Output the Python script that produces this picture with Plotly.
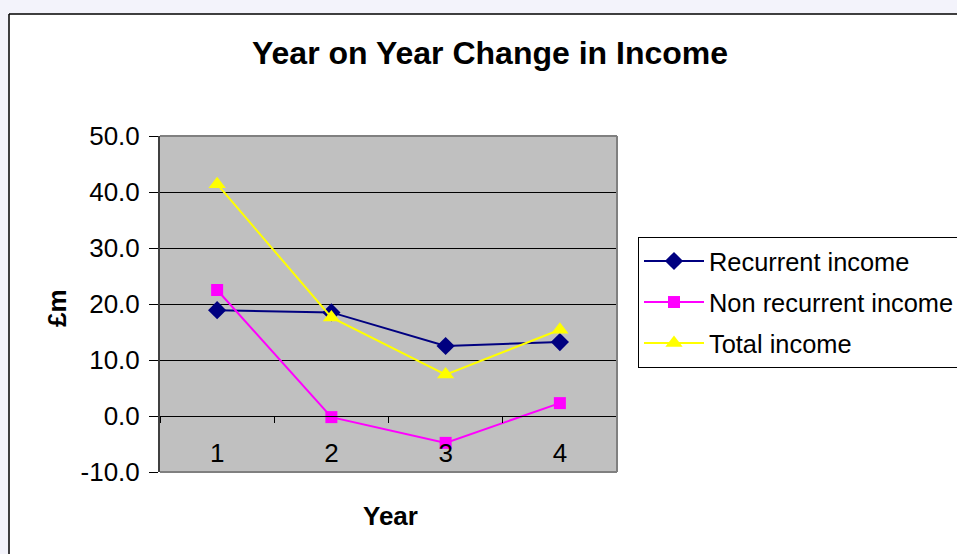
import plotly.graph_objects as go

years = ["1", "2", "3", "4"]
recurrent = [18.9, 18.5, 12.5, 13.2]
non_recurrent = [22.5, -0.2, -4.8, 2.3]
total = [41.4, 17.6, 7.4, 15.4]
y_ticks = [-10, 0, 10, 20, 30, 40, 50]
y_ticktext = [f"{v:.1f}" for v in y_ticks]

FONT = "Arial, Liberation Sans, sans-serif"
W, H = 957, 554
L, R, T, B = 160, 617, 136, 472


def px(xp):
    return (xp - L) / (R - L)


def py(yp):
    return (B - yp) / (B - T)


fig = go.Figure()
fig.add_trace(go.Scatter(x=years, y=recurrent, name="Recurrent income", mode="lines+markers",
                         line=dict(color="#000080", width=2),
                         marker=dict(symbol="diamond", size=14, color="#000080"),
                         legendgroup="a"))
fig.add_trace(go.Scatter(x=years, y=non_recurrent, name="Non recurrent income", mode="lines+markers",
                         line=dict(color="#ff00ff", width=2),
                         marker=dict(symbol="square", size=12, color="#ff00ff"),
                         legendgroup="b"))
fig.add_trace(go.Scatter(x=years, y=total, name="Total income", mode="lines+markers",
                         line=dict(color="#ffff00", width=2),
                         marker=dict(symbol="triangle-up", size=15, color="#ffff00"),
                         legendgroup="c"))

shapes = [
    dict(type="rect", xref="paper", yref="paper", x0=px(-5), x1=px(W + 5), y0=py(14), y1=py(-5),
         fillcolor="#f3f3fb", line=dict(width=0), layer="above"),
    dict(type="rect", xref="paper", yref="paper", x0=px(-5), x1=px(9), y0=py(H + 5), y1=py(14),
         fillcolor="#f3f3fb", line=dict(width=0), layer="above"),
    dict(type="line", xref="paper", yref="paper", x0=px(9), x1=px(W + 5), y0=py(14), y1=py(14),
         line=dict(color="#000000", width=1.5)),
    dict(type="line", xref="paper", yref="paper", x0=px(9), x1=px(9), y0=py(14), y1=py(H + 5),
         line=dict(color="#000000", width=1.5)),
    dict(type="line", xref="paper", yref="paper", x0=0, x1=1, y0=1, y1=1,
         line=dict(color="#808080", width=2)),
    dict(type="line", xref="paper", yref="paper", x0=1, x1=1, y0=0, y1=1,
         line=dict(color="#808080", width=2)),
    dict(type="line", xref="paper", yref="paper", x0=0, x1=1, y0=0, y1=0,
         line=dict(color="#808080", width=2)),
]

fig.update_layout(
    width=W, height=H,
    margin=dict(l=L, r=W - R, t=T, b=H - B, pad=0, autoexpand=False),
    paper_bgcolor="#ffffff",
    plot_bgcolor="#c0c0c0",
    font=dict(family=FONT, color="#000000", size=26),
    title=dict(text="<b>Year on Year Change in Income</b>", x=490 / W, xref="container",
               y=1 - 53 / H, yref="container", xanchor="center", yanchor="middle",
               font=dict(size=32, family=FONT, color="#000000")),
    showlegend=True,
    legend=dict(x=px(638), y=py(237), xanchor="left", yanchor="top",
                bgcolor="#ffffff", bordercolor="#000000", borderwidth=1,
                font=dict(size=25.4, family=FONT), traceorder="grouped", tracegroupgap=5,
                itemwidth=60),
    xaxis=dict(type="category", range=[-0.5, 3.5], anchor="free", position=10 / 60,
               showline=True, linecolor="#000000", linewidth=1,
               ticks="outside", tickson="boundaries", ticklen=6, tickcolor="#000000",
               showgrid=False, zeroline=False, ticklabelstandoff=14,
               tickfont=dict(size=26, family=FONT)),
    yaxis=dict(range=[-10, 50], tickvals=y_ticks, ticktext=y_ticktext,
               showline=True, linecolor="#404040", linewidth=2,
               ticks="outside", ticklen=9, tickcolor="#000000",
               showgrid=True, gridcolor="#000000", gridwidth=1, zeroline=False,
               tickfont=dict(size=26, family=FONT), ticklabelstandoff=4),
    shapes=shapes,
    annotations=[
        dict(text="<b>£m</b>", xref="paper", yref="paper", x=px(57), y=py(308),
             showarrow=False, textangle=-90, font=dict(size=26, family=FONT),
             xanchor="center", yanchor="middle"),
        dict(text="<b>Year</b>", xref="paper", yref="paper", x=px(390), y=py(516),
             showarrow=False, font=dict(size=26, family=FONT),
             xanchor="center", yanchor="middle"),
    ],
)

fig.write_html("out.html")
